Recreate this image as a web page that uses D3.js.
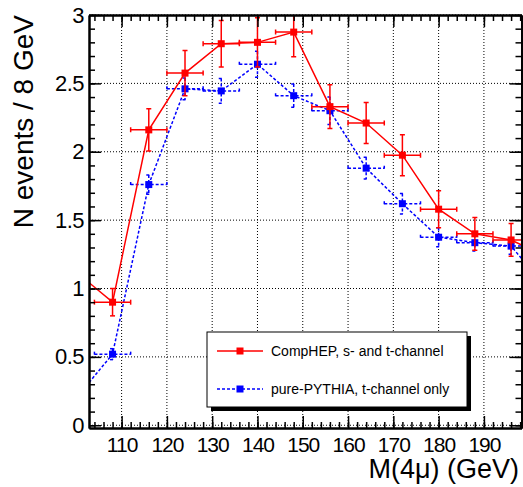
<!DOCTYPE html>
<html lang="en">
<head>
<meta charset="utf-8">
<title>N events / 8 GeV vs M(4mu)</title>
<script src="https://d3js.org/d3.v7.min.js"></script>
<style>
	body { margin: 0; background: #fff; }
	svg { display: block; font-family: "Liberation Sans", Arial, Helvetica, sans-serif; }
</style>
</head>
<body>
<div id="chart"></div>
<script>
	// Data (bin centres in GeV, 8 GeV bins)
	const binCenters = [100, 108, 116, 124, 132, 140, 148, 156, 164, 172, 180, 188, 196, 204];
	const compHEP    = [1.12, 0.90, 2.16, 2.575, 2.79, 2.80, 2.875, 2.33, 2.21, 1.975, 1.58, 1.40, 1.355, 1.23];
	const compHEPErr = [0, 0.10, 0.155, 0.165, 0.17, 0.18, 0.18, 0.16, 0.15, 0.15, 0.135, 0.12, 0.12, 0];
	const pythia     = [0.20, 0.52, 1.76, 2.46, 2.445, 2.64, 2.41, 2.30, 1.88, 1.62, 1.375, 1.335, 1.31, 1.00];
	const pythiaErr  = [0, 0.04, 0.07, 0.08, 0.09, 0.095, 0.085, 0.10, 0.08, 0.075, 0.07, 0.06, 0.06, 0];
	const binHalfWidth = 4;

	const xTicks = [110, 120, 130, 140, 150, 160, 170, 180, 190];
	const yTicks = [0, 0.5, 1, 1.5, 2, 2.5, 3];
	const legendLabels = ["CompHEP, s- and t-channel", "pure-PYTHIA, t-channel only"];

	// Chart dimensions
	const width = 523;
	const height = 487;
	const frame = { left: 89, right: 521.5, top: 15, bottom: 428 };

	const svg = d3.select("#chart")
		.append("svg")
		.attr("width", width)
		.attr("height", height);

	// Scales
	const x = d3.scaleLinear().domain([102.8, 198.3]).range([frame.left, frame.right]);
	const y = d3.scaleLinear().domain([-0.02, 3]).range([frame.bottom, frame.top]);

	const xMinor = d3.range(104, 199, 2);
	const yMinor = d3.range(0, 30.5, 1).map(d => d / 10);

	svg.append("defs").append("clipPath")
		.attr("id", "plot-clip")
		.append("rect")
		.attr("x", frame.left)
		.attr("y", frame.top)
		.attr("width", frame.right - frame.left)
		.attr("height", frame.bottom - frame.top);

	// Grid
	const grid = svg.append("g")
		.attr("stroke", "#000")
		.attr("stroke-width", 1)
		.attr("stroke-dasharray", "1,2");

	grid.selectAll(".vgrid")
		.data(xTicks)
		.join("line")
		.attr("x1", d => x(d)).attr("x2", d => x(d))
		.attr("y1", frame.top).attr("y2", frame.bottom);

	grid.selectAll(".hgrid")
		.data(yTicks)
		.join("line")
		.attr("x1", frame.left).attr("x2", frame.right)
		.attr("y1", d => y(d)).attr("y2", d => y(d));

	// Series
	const plot = svg.append("g").attr("clip-path", "url(#plot-clip)");

	function drawSeries(values, errors, color, dash, size) {
		const pts = binCenters.map((c, i) => ({ c, v: values[i], e: errors[i] }));
		const g = plot.append("g");

		g.append("path")
			.datum(pts)
			.attr("fill", "none")
			.attr("stroke", color)
			.attr("stroke-width", 1.5)
			.attr("stroke-dasharray", dash)
			.attr("d", d3.line().x(d => x(d.c)).y(d => y(d.v)));

		const shown = pts.filter(d => d.e > 0);
		const cap = 2.5;
		const err = g.append("g")
			.attr("stroke", color)
			.attr("stroke-width", 1.5)
			.attr("stroke-dasharray", dash);

		// horizontal bin-width bars
		err.selectAll(".hbar").data(shown).join("line")
			.attr("x1", d => x(d.c - binHalfWidth)).attr("x2", d => x(d.c + binHalfWidth))
			.attr("y1", d => y(d.v)).attr("y2", d => y(d.v));
		err.selectAll(".hcapL").data(shown).join("line")
			.attr("x1", d => x(d.c - binHalfWidth)).attr("x2", d => x(d.c - binHalfWidth))
			.attr("y1", d => y(d.v) - cap).attr("y2", d => y(d.v) + cap);
		err.selectAll(".hcapR").data(shown).join("line")
			.attr("x1", d => x(d.c + binHalfWidth)).attr("x2", d => x(d.c + binHalfWidth))
			.attr("y1", d => y(d.v) - cap).attr("y2", d => y(d.v) + cap);

		// vertical error bars
		err.selectAll(".vbar").data(shown).join("line")
			.attr("x1", d => x(d.c)).attr("x2", d => x(d.c))
			.attr("y1", d => y(d.v + d.e)).attr("y2", d => y(d.v - d.e));
		err.selectAll(".vcapT").data(shown).join("line")
			.attr("x1", d => x(d.c) - cap).attr("x2", d => x(d.c) + cap)
			.attr("y1", d => y(d.v + d.e)).attr("y2", d => y(d.v + d.e));
		err.selectAll(".vcapB").data(shown).join("line")
			.attr("x1", d => x(d.c) - cap).attr("x2", d => x(d.c) + cap)
			.attr("y1", d => y(d.v - d.e)).attr("y2", d => y(d.v - d.e));

		g.selectAll("rect").data(shown).join("rect")
			.attr("x", d => x(d.c) - size / 2)
			.attr("y", d => y(d.v) - size / 2)
			.attr("width", size)
			.attr("height", size)
			.attr("fill", color);
	}

	drawSeries(pythia, pythiaErr, "#0000ff", "3,2", 7);
	drawSeries(compHEP, compHEPErr, "#ff0000", null, 7);

	// Axes (ROOT style: ticks inside the frame, on all four sides)
	function styleAxis(g) {
		g.select(".domain").attr("stroke", "#000").attr("stroke-width", 2);
		g.selectAll(".tick line").attr("stroke", "#000").attr("stroke-width", 1.5);
	}

	const bottom = svg.append("g")
		.attr("transform", `translate(0,${frame.bottom})`)
		.call(d3.axisBottom(x).tickValues(xTicks).tickSizeInner(-12).tickSizeOuter(0).tickPadding(9))
		.call(styleAxis);
	bottom.selectAll("text")
		.attr("fill", "#000")
		.style("font-size", "21px")
		.style("letter-spacing", "-1px");

	svg.append("g")
		.attr("transform", `translate(0,${frame.bottom})`)
		.call(d3.axisBottom(x).tickValues(xMinor).tickSize(-6).tickSizeOuter(0).tickFormat(""))
		.call(styleAxis);

	svg.append("g")
		.attr("transform", `translate(0,${frame.top})`)
		.call(d3.axisTop(x).tickValues(xTicks).tickSize(-12).tickSizeOuter(0).tickFormat(""))
		.call(styleAxis);
	svg.append("g")
		.attr("transform", `translate(0,${frame.top})`)
		.call(d3.axisTop(x).tickValues(xMinor).tickSize(-6).tickSizeOuter(0).tickFormat(""))
		.call(styleAxis);

	const left = svg.append("g")
		.attr("transform", `translate(${frame.left},0)`)
		.call(d3.axisLeft(y).tickValues(yTicks).tickSizeInner(-12).tickSizeOuter(0).tickPadding(5).tickFormat(d3.format("~g")))
		.call(styleAxis);
	left.selectAll("text")
		.attr("fill", "#000")
		.style("font-size", "22px")
		.style("letter-spacing", "-0.5px");

	svg.append("g")
		.attr("transform", `translate(${frame.left},0)`)
		.call(d3.axisLeft(y).tickValues(yMinor).tickSize(-6).tickSizeOuter(0).tickFormat(""))
		.call(styleAxis);

	svg.append("g")
		.attr("transform", `translate(${frame.right},0)`)
		.call(d3.axisRight(y).tickValues(yTicks).tickSize(-12).tickSizeOuter(0).tickFormat(""))
		.call(styleAxis);
	svg.append("g")
		.attr("transform", `translate(${frame.right},0)`)
		.call(d3.axisRight(y).tickValues(yMinor).tickSize(-6).tickSizeOuter(0).tickFormat(""))
		.call(styleAxis);

	// Axis titles
	svg.append("text")
		.attr("transform", `translate(33,${frame.top}) rotate(-90)`)
		.attr("text-anchor", "end")
		.style("font-size", "28px")
		.text("N events / 8 GeV");

	svg.append("text")
		.attr("x", 519)
		.attr("y", 478)
		.attr("text-anchor", "end")
		.style("font-size", "27px")
		.text("M(4\u03bc) (GeV)");

	// Legend
	const legend = svg.append("g");
	const lg = { x: 207, y: 332, w: 260, h: 75 };

	legend.append("rect")
		.attr("x", lg.x + 4).attr("y", lg.y + 4)
		.attr("width", lg.w).attr("height", lg.h)
		.attr("fill", "#000");
	legend.append("rect")
		.attr("x", lg.x).attr("y", lg.y)
		.attr("width", lg.w).attr("height", lg.h)
		.attr("fill", "#fff")
		.attr("stroke", "#000")
		.attr("stroke-width", 1);

	const legendItems = [
		{ label: legendLabels[0], color: "#ff0000", dash: null, y: 351 },
		{ label: legendLabels[1], color: "#0000ff", dash: "3,2", y: 389 }
	];

	legendItems.forEach(item => {
		legend.append("line")
			.attr("x1", 217).attr("x2", 263)
			.attr("y1", item.y).attr("y2", item.y)
			.attr("stroke", item.color)
			.attr("stroke-width", 1.5)
			.attr("stroke-dasharray", item.dash);
		legend.append("rect")
			.attr("x", 240 - 3.5).attr("y", item.y - 3.5)
			.attr("width", 7).attr("height", 7)
			.attr("fill", item.color);
		legend.append("text")
			.attr("x", 271)
			.attr("y", item.y + 5)
			.style("font-size", "14px")
			.text(item.label);
	});
</script>
</body>
</html>
